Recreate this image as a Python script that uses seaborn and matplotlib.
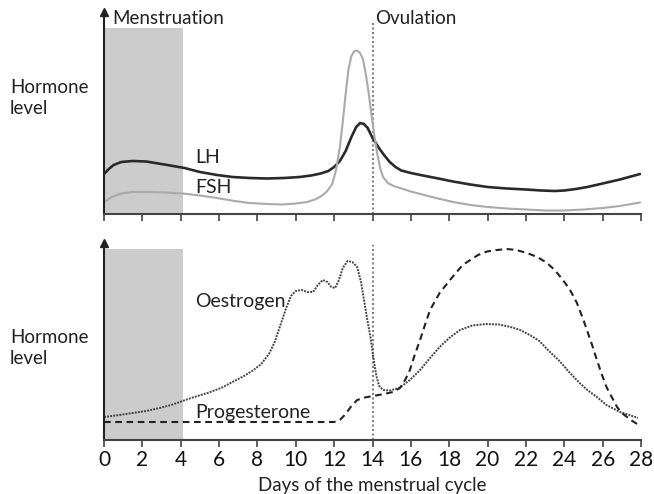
import seaborn as sns
from matplotlib import pyplot as plt

# values (day, relative hormone level)
lh_days = [0.0, 0.25, 0.5, 0.9, 1.5, 2.2, 3.3, 4.2, 5.0, 5.9, 6.7, 7.6, 8.5, 9.4, 10.2, 10.8,
           11.3, 11.7, 12.0, 12.3, 12.6, 12.9, 13.15, 13.35, 13.55, 13.75, 14.0, 14.3, 14.6,
           14.9, 15.2, 15.5, 16.0, 16.5, 17.3, 18.2, 19.1, 20.0, 21.0, 22.0, 22.8, 23.5, 24.0,
           24.6, 25.2, 26.0, 26.9, 27.95]
lh_level = [40, 45, 49, 52, 53, 52.5, 49, 46, 42, 39, 37, 36, 35.5, 36, 37, 38.5,
            40.5, 43, 47, 53, 63, 77, 87, 91, 90, 86, 76, 67, 59,
            52, 47, 43.5, 41, 39, 36, 32.5, 29.5, 27, 25.5, 24.5, 23.5, 23, 23.5,
            25, 27, 30.5, 34.5, 40]

fsh_days = [0.0, 0.4, 0.9, 1.5, 2.3, 3.2, 4.1, 5.0, 5.9, 6.8, 7.6, 8.5, 9.3, 10.0, 10.6, 11.0,
            11.3, 11.6, 11.9, 12.1, 12.3, 12.45, 12.6, 12.75, 12.9, 13.05, 13.2, 13.35, 13.5,
            13.65, 13.8, 13.95, 14.1, 14.25, 14.4, 14.55, 14.8, 15.1, 15.43, 16.0, 16.5, 17.3,
            18.2, 19.1, 20.0, 21.0, 22.0, 23.0, 24.0, 25.0, 26.0, 26.9, 27.95]
fsh_level = [12, 17, 20.5, 22, 22, 21.5, 20.5, 18.5, 16, 13, 11, 10, 9.5, 10.5, 12, 14.5,
             17.5, 22, 30, 44, 67, 92, 120, 145, 158, 163, 163.5, 161, 155,
             140, 121, 99, 78, 60, 46, 37, 31, 28, 26, 22.5, 20, 16,
             12, 9, 7, 5.5, 4.5, 3.5, 3.5, 4.5, 6, 8, 11.5]

oest_days = [0.0, 0.8, 1.5, 2.2, 2.9, 3.5, 4.1, 4.7, 5.4, 6.1, 6.7, 7.3, 7.8, 8.2, 8.6, 8.9,
             9.2, 9.5, 9.75, 10.0, 10.3, 10.6, 10.9, 11.15, 11.4, 11.65, 11.85, 12.05, 12.25,
             12.45, 12.7, 12.95, 13.2, 13.4, 13.6, 13.75, 13.9, 14.05, 14.2, 14.35, 14.55, 14.9,
             15.4, 15.95, 16.48, 17.0, 17.5, 18.0, 18.56, 19.2, 19.9, 20.6, 21.2, 21.7, 22.2,
             22.7, 23.2, 23.7, 24.3, 24.8, 25.2, 25.7, 26.2, 26.9, 27.4, 27.84]
oest_level = [23, 25, 27, 29, 32, 35, 39, 43, 47, 52, 58, 64, 70, 76, 86, 98,
              115, 132, 144, 149, 150, 148, 148, 155, 160, 158, 153, 152, 160,
              172, 179, 178, 173, 158, 135, 118, 102, 82, 64, 54, 50, 49.5,
              52, 60, 70, 82, 93, 102, 110, 114.5, 116, 115.5, 113, 110, 105,
              99, 89, 80, 67, 57, 50, 43, 35, 28, 25, 22]

prog_days = [0.0, 4.0, 8.0, 12.0, 12.3, 12.6, 12.9, 13.2, 13.6, 14.03, 14.6, 15.07, 15.43,
             15.7, 15.95, 16.2, 16.48, 16.75, 17.0, 17.5, 18.04, 18.7, 19.5, 19.97, 20.5, 21.0,
             21.5, 22.05, 22.6, 23.1, 23.5, 23.93, 24.3, 24.66, 25.0, 25.18, 25.45, 25.7, 25.95,
             26.2, 26.5, 26.75, 27.0, 27.27, 27.55, 27.8]
prog_level = [18, 18, 18, 18, 20, 26, 34, 40, 42.5, 44, 46, 48, 52,
              60, 70, 85, 100, 116, 130, 147, 160, 175, 185, 188.5, 190, 191,
              190, 187, 183, 177, 170, 160, 150, 137, 120, 110, 95, 80, 66,
              53, 42, 33, 27, 23, 19, 16]

day_ticks = list(range(0, 29, 2))

sns.set_style("white")
plt.rcParams["font.family"] = ["Lato", "DejaVu Sans"]
ink = "#222222"

fig = plt.figure(figsize=(6.54, 4.94), dpi=100)
ax_top = fig.add_axes([104 / 654, 1 - 214 / 494, 537 / 654, 202 / 494])
ax_bot = fig.add_axes([104 / 654, 1 - 440 / 494, 537 / 654, 197 / 494])

sns.lineplot(x=lh_days, y=lh_level, ax=ax_top, sort=False, estimator=None,
             color="#2a2a2a", lw=1.9, solid_joinstyle="round")
sns.lineplot(x=fsh_days, y=fsh_level, ax=ax_top, sort=False, estimator=None,
             color="#aaaaaa", lw=1.5, solid_joinstyle="round")
sns.lineplot(x=oest_days, y=oest_level, ax=ax_bot, sort=False, estimator=None,
             color="#444444", lw=1.4, linestyle=(0, (1, 0.6)))
sns.lineplot(x=prog_days, y=prog_level, ax=ax_bot, sort=False, estimator=None,
             color="#222222", lw=1.5, linestyle=(0, (3.2, 2.2)))

for ax, ymax, shade_top, ov_top in [(ax_top, 202, 186 / 202, 0.95), (ax_bot, 197, 191 / 197, 0.99)]:
    ax.set_xlim(0, 28)
    ax.set_ylim(0, ymax)
    ax.axvspan(0, 4.1, ymax=shade_top, color="#cccccc", lw=0, zorder=0)
    ax.axvline(14, ymax=ov_top, color="#666666", lw=1.2, ls=(0, (1.2, 1.5)), zorder=1)
    sns.despine(ax=ax)
    ax.spines["left"].set_color(ink)
    ax.spines["bottom"].set_color("#444444")
    ax.spines["left"].set_linewidth(1.5)
    ax.spines["bottom"].set_linewidth(1.5)
    ax.set_yticks([])
    ax.set_xticks(day_ticks)
    ax.tick_params(axis="x", direction="out", length=5, width=1.2, color="#444444",
                   bottom=True, labelsize=15, labelcolor="#111111", pad=2)
    ax.plot(0, 1, marker="^", color=ink, markersize=6, transform=ax.transAxes,
            clip_on=False)
    ax.set_xlabel("")
    ax.set_ylabel("")

ax_top.tick_params(axis="x", labelbottom=False)
ax_bot.set_xlabel("Days of the menstrual cycle", fontsize=13.5, color=ink, labelpad=5)

ax_top.text(4.75, 51, "LH", fontsize=14, color=ink, va="baseline")
ax_top.text(4.75, 21, "FSH", fontsize=14, color=ink, va="baseline")
ax_bot.text(4.75, 133, "Oestrogen", fontsize=14, color=ink, va="baseline")
ax_bot.text(4.75, 22, "Progesterone", fontsize=14, color=ink, va="baseline")

fig.text(112 / 654, 1 - 24 / 494, "Menstruation", fontsize=13.5, color=ink, va="baseline")
fig.text(375 / 654, 1 - 24 / 494, "Ovulation", fontsize=13.5, color=ink, va="baseline")
for base in (93, 343):
    fig.text(10 / 654, 1 - base / 494, "Hormone", fontsize=13.5, color=ink, va="baseline")
    fig.text(10 / 654, 1 - (base + 21) / 494, "level", fontsize=13.5, color=ink, va="baseline")

fig.savefig("out.png", dpi=100)
